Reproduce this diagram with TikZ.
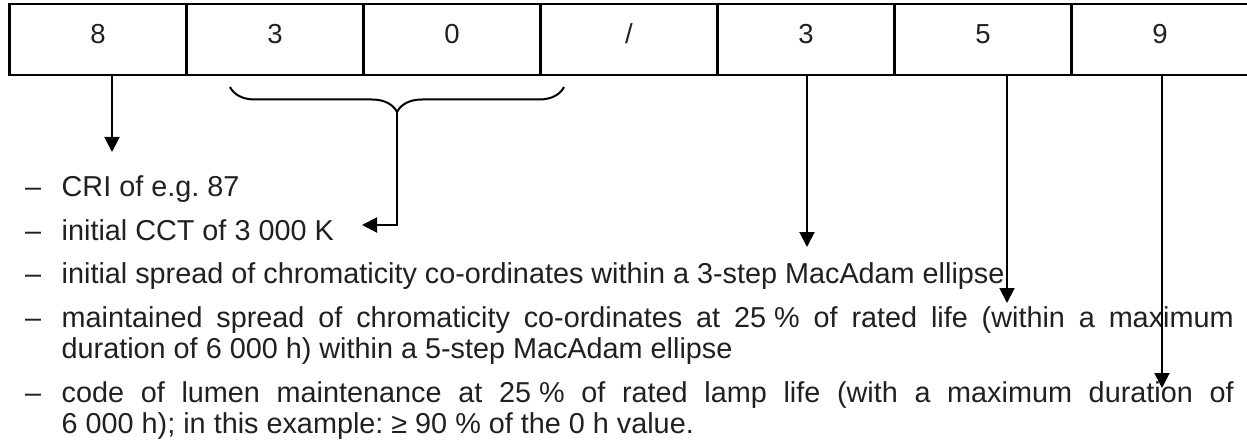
\documentclass[tikz,border=0pt]{standalone}
\usepackage{fontspec}
\setmainfont{Liberation Sans}
\usetikzlibrary{arrows.meta,decorations.pathreplacing}
\frenchspacing
\newcommand\bodyfont{\fontsize{28.8pt}{31pt}\selectfont}
\newcommand\digitfont{\fontsize{27.5pt}{31pt}\selectfont}
\definecolor{inkgray}{RGB}{35,31,32}
\begin{document}
\begin{tikzpicture}[x=1pt,y=-1pt,
  cell/.style={draw,line width=2.4pt,minimum width=177pt,minimum height=71pt,
    inner sep=0pt,outer sep=0pt,anchor=north west},
  digit/.style={anchor=base,inner sep=0pt,text=inkgray,font=\digitfont},
  txt/.style={anchor=base west,inner sep=0pt,text=inkgray,font=\bodyfont},
  pointer/.style={line width=2pt,-{Triangle[length=15pt,width=15pt]}},
  bracket/.style={line width=2pt,decorate,decoration={brace,mirror,amplitude=25pt}}]
\useasboundingbox (0,0) rectangle (1247,441);

% code boxes
\foreach \i/\s in {0/8,1/3,2/0,3/{/},4/3,5/5,6/9}{
  \node[cell] (c\i) at (9.5+177*\i,4) {};
  \node[digit] (d\i) at (98+177*\i,43.3) {\s};
}

% list of meanings
\foreach \n/\y in {1/196,2/240,3/283,4/327,5/402}{
  \node[txt] (m\n) at (25,\y) {–};
}
\node[txt] (t1) at (61.5,196) {CRI of e.g. 87};
\node[txt] (t2) at (61.5,240) {initial CCT of 3 000 K};
\node[txt] (t3) at (61.5,283) {initial spread of chromaticity co-ordinates within a 3-step MacAdam ellipse};
\node[txt] (t4a) at (61.5,327) {\makebox[1172pt][s]{maintained spread of chromaticity co-ordinates at \mbox{25 \%} of rated life (within a maximum}};
\node[txt] (t4b) at (61.5,358) {duration of 6 000 h) within a 5-step MacAdam ellipse};
\node[txt] (t5a) at (61.5,402) {\makebox[1172pt][s]{code of lumen maintenance at \mbox{25 \%} of rated lamp life (with a maximum duration of}};
\node[txt] (t5b) at (61.5,433) {6 000 h); in this example: ≥ 90 \% of the 0 h value.};

% connector end points
\coordinate (s0) at (112,74);
\coordinate (e0) at (112,152);
\coordinate (bl) at (230,87);
\coordinate (br) at (564,87);
\coordinate (bt) at (397,112);
\coordinate (e1) at (362,225);
\coordinate (s4) at (807,75);
\coordinate (e4) at (807,247);
\coordinate (s5) at (1007,74);
\coordinate (e5) at (1007,303);
\coordinate (s6) at (1162,75);
\coordinate (e6) at (1162,388);

\draw[pointer] (s0) -- (e0);
\draw[bracket] (bl) -- (br);
\draw[pointer] (bt) |- (e1);
\draw[pointer] (s4) -- (e4);
\draw[pointer] (s5) -- (e5);
\draw[pointer] (s6) -- (e6);
\end{tikzpicture}
\end{document}
